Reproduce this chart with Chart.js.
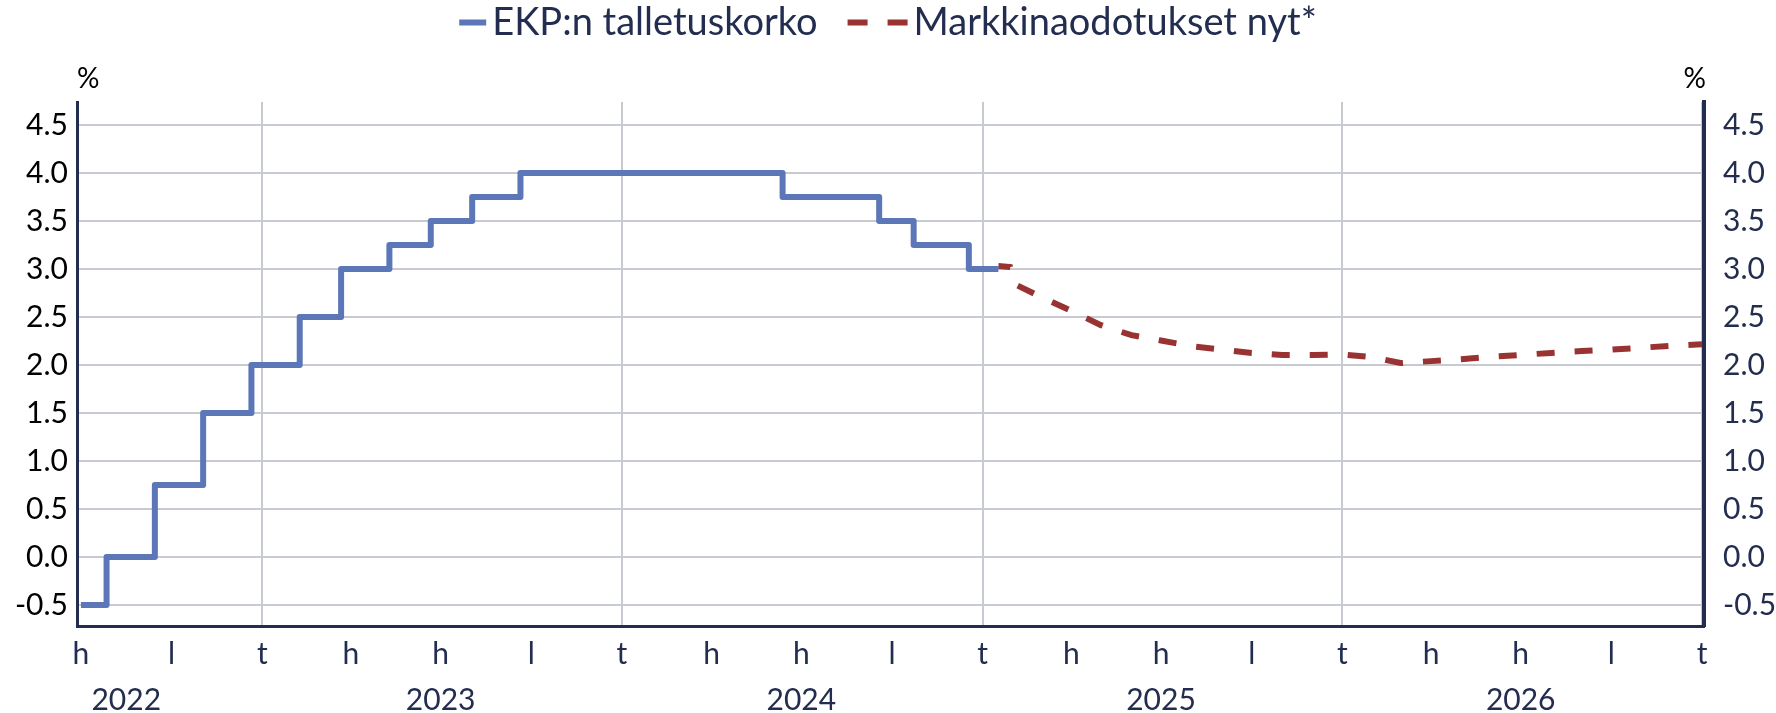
<!DOCTYPE html>
<html><head><meta charset="utf-8">
<script src="https://cdn.jsdelivr.net/npm/chart.js@4.4.1/dist/chart.umd.min.js"></script>
<style>html,body{margin:0;padding:0;background:#fff;}#wrap{width:1776px;height:713px;position:relative;}</style>
</head><body><div id="wrap"><canvas id="c" width="1776" height="713"></canvas></div>
<script>
// ---- data ----
const seriesNames = ['EKP:n talletuskorko', 'Markkinaodotukset nyt*'];
const unitLabel = '%';
const rateDates = ['2022-07-01','2022-07-27','2022-09-14','2022-11-02','2022-12-21','2023-02-08','2023-03-22','2023-05-10','2023-06-21','2023-08-02','2023-09-20','2024-06-12','2024-09-18','2024-10-23','2024-12-18','2025-01-17'];
const rateValues = [-0.5, 0.0, 0.75, 1.5, 2.0, 2.5, 3.0, 3.25, 3.5, 3.75, 4.0, 3.75, 3.5, 3.25, 3.0, 3.0];
const marketDates = ['2025-01-17','2025-01-29','2025-02-05','2025-03-01','2025-04-01','2025-05-01','2025-06-01','2025-07-01','2025-08-01','2025-09-01','2025-10-01','2025-11-01','2025-12-01','2026-01-01','2026-02-01','2026-03-01','2026-04-01','2026-05-01','2026-06-01','2026-07-01','2026-08-01','2026-09-01','2026-10-01','2026-11-01','2026-12-01','2027-01-01'];
const marketValues = [3.03, 3.02, 2.83, 2.71, 2.565, 2.415, 2.31, 2.255, 2.195, 2.16, 2.125, 2.105, 2.105, 2.11, 2.08, 2.02, 2.04, 2.06, 2.085, 2.105, 2.125, 2.145, 2.16, 2.18, 2.20, 2.215];
const quarterDates = ['2022-07-01','2022-10-01','2023-01-01','2023-04-01','2023-07-01','2023-10-01','2024-01-01','2024-04-01','2024-07-01','2024-10-01','2025-01-01','2025-04-01','2025-07-01','2025-10-01','2026-01-01','2026-04-01','2026-07-01','2026-10-01','2027-01-01'];
const quarterLabels = ['h','l','t','h','h','l','t','h','h','l','t','h','h','l','t','h','h','l','t'];
const yearDates = ['2022-08-16','2023-07-01','2024-07-01','2025-07-01','2026-07-01'];
const yearLabels = ['2022','2023','2024','2025','2026'];
const yTicks = [-0.5, 0.0, 0.5, 1.0, 1.5, 2.0, 2.5, 3.0, 3.5, 4.0, 4.5];
const axisStart = '2022-06-27';
const axisEnd = '2027-01-03';
const yMin = -0.72, yMax = 4.74;

// ---- styles ----
const FONT = 'Lato, "Open Sans", sans-serif';
const BLUE = '#5B77B7';
const RED = '#993331';
const NAVY = '#222D4F';
const GRID = '#C8CAD2';

const DAY = 86400000;
const toDay = s => Date.parse(s + 'T00:00:00Z') / DAY;

Chart.defaults.font.family = FONT;

const overlay = {
  id: 'overlay',
  afterDraw(chart) {
    const ctx = chart.ctx;
    ctx.save();
    // legend
    ctx.font = '38px ' + FONT;
    const samples = [27, 60];
    const gapText = 6, gapItem = 30;
    const textW = seriesNames.map(t => ctx.measureText(t).width);
    const total = samples[0] + gapText + textW[0] + gapItem + samples[1] + gapText + textW[1];
    let x = (chart.width - total) / 2;
    const ly = 22.5;
    const colors = [BLUE, RED];
    for (let i = 0; i < 2; i++) {
      ctx.beginPath();
      ctx.lineWidth = 6;
      ctx.strokeStyle = colors[i];
      ctx.lineCap = 'butt';
      ctx.setLineDash(i === 1 ? [20, 20] : []);
      ctx.moveTo(x, ly); ctx.lineTo(x + samples[i], ly);
      ctx.stroke();
      ctx.setLineDash([]);
      x += samples[i] + gapText;
      ctx.fillStyle = NAVY;
      ctx.textBaseline = 'alphabetic';
      ctx.textAlign = 'left';
      ctx.fillText(seriesNames[i], x, 35);
      x += textW[i] + gapItem;
    }
    // unit labels
    const ca = chart.chartArea;
    ctx.font = '28px ' + FONT;
    ctx.fillStyle = '#000';
    ctx.textAlign = 'left';
    ctx.fillText(unitLabel, ca.left, 88);
    ctx.textAlign = 'right';
    ctx.fillText(unitLabel, ca.right + 2, 88);
    ctx.restore();
  }
};

const setTicks = vals => scale => { scale.ticks = vals.map(v => ({ value: v })); };

new Chart(document.getElementById('c').getContext('2d'), {
  type: 'line',
  data: {
    datasets: [
      {
        label: seriesNames[0],
        data: rateDates.map((d, i) => ({ x: toDay(d), y: rateValues[i] })),
        borderColor: BLUE, backgroundColor: BLUE, borderWidth: 6,
        stepped: 'before', pointRadius: 0, borderJoinStyle: 'round', fill: false,
        xAxisID: 'x', yAxisID: 'y'
      },
      {
        label: seriesNames[1],
        data: marketDates.map((d, i) => ({ x: toDay(d), y: marketValues[i] })),
        borderColor: RED, backgroundColor: RED, borderWidth: 6,
        borderDash: [18, 20], borderDashOffset: 6, borderCapStyle: 'butt',
        tension: 0, pointRadius: 0, fill: false,
        xAxisID: 'x', yAxisID: 'y'
      }
    ]
  },
  options: {
    responsive: false,
    animation: false,
    layout: { padding: { top: 102, left: 0, right: 0, bottom: 0 } },
    plugins: { legend: { display: false }, tooltip: { enabled: false } },
    scales: {
      x: {
        type: 'linear', position: 'bottom',
        min: toDay(axisStart), max: toDay(axisEnd),
        afterBuildTicks: setTicks(quarterDates.map(toDay)),
        ticks: {
          callback: (v, i) => quarterLabels[i],
          color: NAVY, font: { size: 30 }, maxRotation: 0, minRotation: 0,
          autoSkip: false, padding: 10
        },
        grid: {
          color: c => quarterLabels[c.index] === 't' ? GRID : 'rgba(0,0,0,0)',
          lineWidth: 2, drawTicks: false
        },
        border: { color: NAVY, width: 3 },
        afterFit: s => { s.height = 45; }
      },
      x2: {
        type: 'linear', position: 'bottom',
        min: toDay(axisStart), max: toDay(axisEnd),
        afterBuildTicks: setTicks(yearDates.map(toDay)),
        ticks: {
          callback: (v, i) => yearLabels[i],
          color: NAVY, font: { size: 30 }, maxRotation: 0, minRotation: 0,
          autoSkip: false, padding: 11
        },
        grid: { display: false, drawTicks: false },
        border: { display: false },
        afterFit: s => { s.height = 42; }
      },
      y: {
        position: 'left', min: yMin, max: yMax,
        afterBuildTicks: setTicks(yTicks),
        ticks: { callback: v => v.toFixed(1), color: '#000', font: { size: 30 }, padding: 9 },
        grid: { color: GRID, lineWidth: 2, drawTicks: false },
        border: { color: NAVY, width: 3 },
        afterFit: s => { s.width = 77; }
      },
      y2: {
        position: 'right', min: yMin, max: yMax,
        afterBuildTicks: setTicks(yTicks),
        ticks: { callback: v => v.toFixed(1), color: NAVY, font: { size: 30 }, padding: 19 },
        grid: { display: false, drawTicks: false },
        border: { color: NAVY, width: 4 },
        afterFit: s => { s.width = 72; }
      }
    }
  },
  plugins: [overlay]
});
</script>
</body></html>
